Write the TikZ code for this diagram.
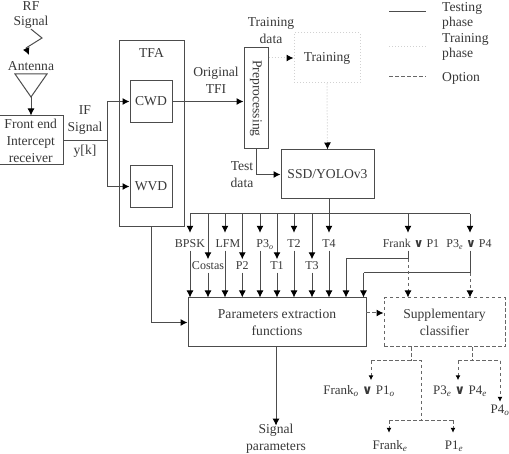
\documentclass[tikz,border=0pt]{standalone}
\usepackage{graphicx}
\usepackage{fontspec}
\setmainfont{Liberation Serif}
\newfontfamily\orfont{DejaVu Sans}
\usetikzlibrary{arrows.meta,positioning}
\newcommand{\lsub}[1]{\textsubscript{\textit{#1}}}
\newcommand{\orsym}{{\orfont\bfseries ∨}}
\definecolor{ink}{gray}{0.22}
\definecolor{wire}{gray}{0.3}
\definecolor{pale}{gray}{0.82}
\tikzset{
  bigtxt/.style={font=\fontsize{13.6}{17}\selectfont,text=ink,align=center,inner sep=0pt},
  smalltxt/.style={font=\fontsize{12}{14}\selectfont,text=ink,text height=9pt,text depth=2pt,inner xsep=0pt,inner ysep=1pt},
  treetxt/.style={font=\fontsize{13}{15}\selectfont,text=ink,text height=9pt,text depth=2pt,inner xsep=0pt,inner ysep=1pt},
  block/.style={draw=wire,bigtxt,line width=1pt},
  optline/.style={dash pattern=on 3.5pt off 2.5pt,draw=wire!85,line width=1pt},
  dotline/.style={dotted,draw=pale,line width=1pt},
  wireline/.style={draw=wire,line width=1pt},
  minitip/.style={-{Latex[length=5pt,width=5pt,color=black]}}
}
\begin{document}
\begin{tikzpicture}[x=1pt,y=-1pt,>={Latex[length=7pt,width=7pt,color=black]}]
  \useasboundingbox (0,0) rectangle (509,454);

  \node[block,minimum width=65.5pt,minimum height=49pt] (front) at (30.75,140.5) {Front end\\Intercept\\receiver};
  \node[block,minimum width=65pt,minimum height=186pt] (tfa) at (151.5,134) {};
  \node[bigtxt] (tfalabel) at (151.5,53) {TFA};
  \node[block,minimum width=42pt,minimum height=42pt] (cwd) at (151,101.5) {CWD};
  \node[block,minimum width=42pt,minimum height=42pt] (wvd) at (151,186.5) {WVD};
  \node[block,minimum width=24pt,minimum height=101pt] (prep) at (256,98.5) {\rotatebox{-90}{Preprocessing}};
  \node[block,draw=pale,dotted,minimum width=66pt,minimum height=50pt] (training) at (327,58) {Training};
  \node[block,minimum width=93pt,minimum height=49pt] (ssd) at (327.5,174.5) {SSD/YOLOv3};
  \node[block,minimum width=178pt,minimum height=49pt] (params) at (277,322.5) {Parameters extraction\\functions};
  \node[block,optline,minimum width=121pt,minimum height=49pt] (supp) at (444.5,322.5) {Supplementary\\classifier};

  \node[bigtxt] (rf) at (31,15.5) {RF\\[-2pt]Signal};
  \node[bigtxt] (antenna) at (31,66) {Antenna};
  \node[bigtxt] (ifsig) at (85,120) {IF\\Signal};
  \node[bigtxt] (yk) at (85,151) {y[k]};
  \node[bigtxt] (orig) at (216,80.5) {Original\\TFI};
  \node[bigtxt] (traindata) at (271,31) {Training\\data};
  \node[bigtxt] (testdata) at (242,174.5) {Test\\data};
  \node[bigtxt] (sigpar) at (276,438.5) {Signal\\parameters};

  \coordinate (zz1) at (42,38);
  \coordinate (zz2) at (26,48);
  \coordinate (zz3) at (29,55);
  \draw[wireline] (rf.south) -- (zz1) -- (zz2);
  \draw[wireline,->] (zz2) -- (zz3);

  \coordinate (antL) at (15,74);
  \coordinate (antR) at (47,74);
  \coordinate (antB) at (31,97);
  \draw[wireline] (antL) -- (antR) -- (antB) -- cycle;
  \draw[wireline,->] (antB) -- (antB |- front.north);

  \coordinate (split) at (107,140.5);
  \draw[wireline] (front.east) -- (split);
  \draw[wireline,->] (split) |- (cwd.west);
  \draw[wireline,->] (split) |- (wvd.west);
  \draw[wireline,->] (cwd.east) -- (cwd.east -| prep.west);
  \draw[wireline,->] (prep.south) |- (ssd.west);
  \draw[dotline,->] (prep.east |- training.west) -- (training.west);
  \draw[dotline,->] (training.south) -- (ssd.north);

  \coordinate (busL) at (190,214);
  \coordinate (busR) at (470,214);
  \draw[wireline] (busL) -- (busR);

  \foreach \nm/\px/\tx/\lab in {bpsk/190/190/BPSK,lfm/225/228/LFM,pthree/260/265/P3\lsub{o},ttwo/294/294/T2,tfour/329/329/T4}{
    \coordinate (t\nm) at (\px,214);
    \node[smalltxt] (\nm) at (\tx,244) {\lab};
    \draw[wireline,->,shorten >=4.5pt] (t\nm) -- (t\nm |- \nm.north);
    \draw[wireline,->] (t\nm |- \nm.south) -- (t\nm |- params.north);
  }
  \foreach \nm/\px/\lab in {costas/208/Costas,ptwo/242.3/P2,tone/277/T1,tthree/312/T3}{
    \coordinate (t\nm) at (\px,214);
    \node[smalltxt] (\nm) at (\px,266) {\lab};
    \draw[wireline,->] (t\nm) -- (\nm.north);
    \draw[wireline,->] (\nm.south) -- (t\nm |- params.north);
  }
  \draw[wireline] (ttfour |- ssd.south) -- (ttfour);

  \draw[wireline,->] (tfa.south) |- (params.west);

  \coordinate (tfrank) at (408,214);
  \coordinate (tpfour) at (470,214);
  \coordinate (jfrank) at (408,259);
  \coordinate (jpfour) at (470,273);
  \coordinate (dfrank) at (346,259);
  \coordinate (dpfour) at (363.5,273);
  \coordinate (optout) at (366,313);
  \node[smalltxt] (frank) at (411,244) {Frank \orsym{} P1};
  \node[smalltxt] (pfour) at (469,244) {P3\lsub{e} \orsym{} P4};
  \draw[wireline,->,shorten >=4.5pt] (tfrank) -- (tfrank |- frank.north);
  \draw[wireline,->,shorten >=4.5pt] (tpfour) -- (tpfour |- pfour.north);
  \draw[wireline] (jfrank |- frank.south) -- (jfrank) -- (dfrank);
  \draw[wireline,->] (dfrank) -- (dfrank |- params.north);
  \draw[wireline] (jpfour |- pfour.south) -- (jpfour) -- (dpfour);
  \draw[wireline,->] (dpfour) -- (dpfour |- params.north);
  \draw[optline,->] (jfrank) -- (jfrank |- supp.north);
  \draw[optline,->] (jpfour) -- (jpfour |- supp.north);
  \draw[optline,->] (optout) -- (optout -| supp.west);

  \draw[wireline,->,shorten >=-2pt] (sigpar.north |- params.south) -- (sigpar.north);

  \node[treetxt] (flo) at (359,391) {Frank\lsub{o} \orsym{} P1\lsub{o}};
  \node[treetxt] (ple) at (460,391) {P3\lsub{e} \orsym{} P4\lsub{e}};
  \node[treetxt] (pfo) at (500,410) {P4\lsub{o}};
  \node[treetxt] (fre) at (390,446) {Frank\lsub{e}};
  \node[treetxt] (pne) at (454,446) {P1\lsub{e}};

  \coordinate (sa) at (411,361);
  \coordinate (sal) at (371,361);
  \coordinate (sar) at (421,361);
  \coordinate (sb) at (472,361);
  \coordinate (sbl) at (458,361);
  \coordinate (sbr) at (500,361);
  \coordinate (sc) at (421,420);
  \coordinate (scl) at (389,420);
  \coordinate (scr) at (453,420);
  \draw[optline] (sa |- supp.south) -- (sa);
  \draw[optline] (sb |- supp.south) -- (sb);
  \draw[optline] (sbl) -- (sbr);
  \draw[optline] (sal) -- (sar) -- (sc);
  \draw[optline] (scl) -- (scr);
  \draw[optline,minitip,shorten >=4pt] (sal) -- (sal |- flo.north);
  \draw[optline,minitip,shorten >=4pt] (sbl) -- (sbl |- ple.north);
  \draw[optline,minitip,shorten >=1.5pt] (sbr) -- (sbr |- pfo.north);
  \draw[optline,minitip,shorten >=6.5pt] (scl) -- (scl |- fre.north);
  \draw[optline,minitip,shorten >=6.5pt] (scr) -- (scr |- pne.north);

  \coordinate (lega) at (389,12);
  \coordinate (legb) at (426,12);
  \coordinate (legc) at (389,47);
  \coordinate (legd) at (426,47);
  \coordinate (lege) at (389,77);
  \coordinate (legf) at (426,77);
  \draw[wireline] (lega) -- (legb);
  \draw[dotline] (legc) -- (legd);
  \draw[optline] (lege) -- (legf);
  \node[bigtxt,align=left,anchor=west] (legtest) at (442,15.5) {Testing\\[-2pt]phase};
  \node[bigtxt,align=left,anchor=west] (legtrain) at (442,46.5) {Training\\[-2pt]phase};
  \node[bigtxt,anchor=west] (legopt) at (442,78) {Option};
\end{tikzpicture}
\end{document}
